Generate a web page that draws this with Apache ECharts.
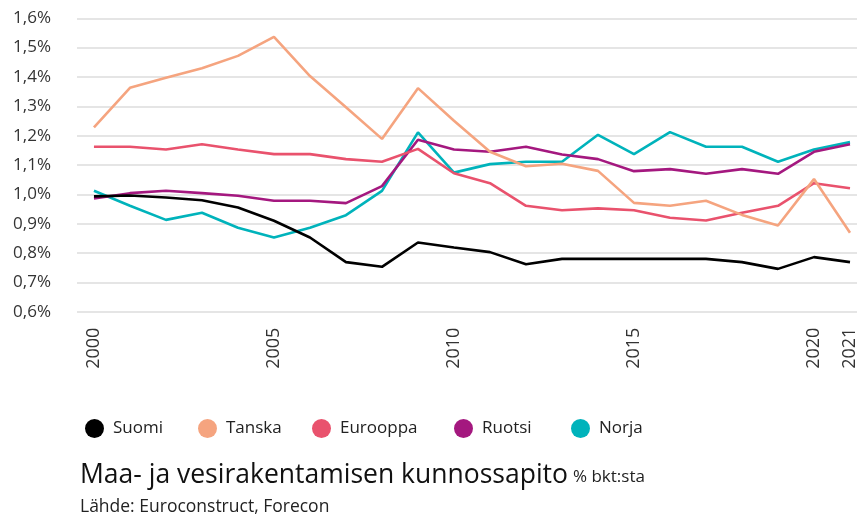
<!DOCTYPE html>
<html><head><meta charset="utf-8">
<script src="https://cdn.jsdelivr.net/npm/echarts@6/dist/echarts.min.js"></script>
<style>html,body{margin:0;padding:0;background:#fff}#c{width:859px;height:517px}</style>
</head><body><div id="c"></div>
<script>
var years = [2000,2001,2002,2003,2004,2005,2006,2007,2008,2009,2010,2011,2012,2013,2014,2015,2016,2017,2018,2019,2020,2021];
var xTickLabels = [2000,2005,2010,2015,2020,2021];
var suomi    = [0.993,0.996,0.989,0.980,0.955,0.910,0.853,0.769,0.753,0.836,0.819,0.803,0.762,0.780,0.780,0.780,0.780,0.780,0.769,0.746,0.786,0.769];
var tanska   = [1.228,1.363,1.397,1.430,1.472,1.537,1.403,1.297,1.189,1.362,1.251,1.145,1.096,1.104,1.080,0.971,0.961,0.978,0.930,0.894,1.052,0.869];
var eurooppa = [1.162,1.162,1.153,1.171,1.153,1.137,1.137,1.120,1.111,1.155,1.072,1.038,0.961,0.946,0.952,0.946,0.920,0.911,0.937,0.961,1.038,1.021];
var ruotsi   = [0.986,1.004,1.012,1.004,0.995,0.978,0.978,0.970,1.028,1.186,1.153,1.145,1.162,1.136,1.120,1.079,1.086,1.070,1.086,1.070,1.145,1.171];
var norja    = [1.012,0.961,0.913,0.937,0.886,0.853,0.886,0.929,1.012,1.211,1.074,1.103,1.111,1.111,1.203,1.137,1.212,1.162,1.162,1.111,1.153,1.178];
var seriesNames = ['Suomi','Tanska','Eurooppa','Ruotsi','Norja'];
var seriesData = [suomi, tanska, eurooppa, ruotsi, norja];
var colors = ['#000000','#f5a47f','#e9526d','#a4187f','#00b3bb'];
var legendLeft = [80,193,307,449,566];
var FONT = 'Open Sans';

function pairs(arr){ return arr.map(function(v,i){ return [years[i], v]; }); }

var chart = echarts.init(document.getElementById('c'), null, {renderer:'canvas'});
var option = {
  animation: false,
  color: colors,
  grid: { left: 77, right: 0, top: 18.3, bottom: 205.3, containLabel: false },
  xAxis: {
    type: 'value',
    min: 1999.529, max: 2021.194,
    axisLine: { show: false },
    axisTick: { show: false },
    splitLine: { show: false },
    axisLabel: {
      customValues: xTickLabels,
      rotate: 90,
      margin: 16,
      color: '#333',
      fontFamily: FONT,
      fontSize: 18,
      formatter: function(v){ return String(Math.round(v)); }
    }
  },
  yAxis: {
    type: 'value',
    min: 0.6, max: 1.6, interval: 0.1,
    axisLine: { show: false },
    axisTick: { show: false },
    splitLine: { lineStyle: { color: '#dcdcdc', width: 1.5 } },
    axisLabel: {
      margin: 26,
      color: '#333',
      fontFamily: FONT,
      fontSize: 17,
      formatter: function(v){ return v.toFixed(1).replace('.', ',') + '%'; }
    }
  },
  legend: seriesNames.map(function(n, i){
    return {
      data: [{ name: n, icon: 'circle' }],
      left: legendLeft[i], top: 414,
      itemWidth: 19, itemHeight: 19,
      selectedMode: false,
      textStyle: { color: '#222', fontFamily: FONT, fontSize: 17, padding: [0,0,0,4] }
    };
  }),
  series: seriesNames.map(function(n, i){
    return {
      name: n, type: 'line', data: pairs(seriesData[i]),
      showSymbol: false, symbol: 'none',
      lineStyle: { width: 2.6, color: colors[i] },
      itemStyle: { color: colors[i] },
      z: 10 - i
    };
  }),
  graphic: [
    { type: 'text', left: 80, top: 462, style: { text: 'Maa- ja vesirakentamisen kunnossapito', fill: '#111', font: '400 26.5px "Open Sans"' } },
    { type: 'text', left: 573, top: 469, style: { text: '% bkt:sta', fill: '#222', font: '400 17px "Open Sans"' } },
    { type: 'text', left: 80, top: 498, style: { text: 'Lähde: Euroconstruct, Forecon', fill: '#222', font: '400 17.5px "Open Sans"' } }
  ]
};
chart.setOption(option);
</script>
</body></html>
